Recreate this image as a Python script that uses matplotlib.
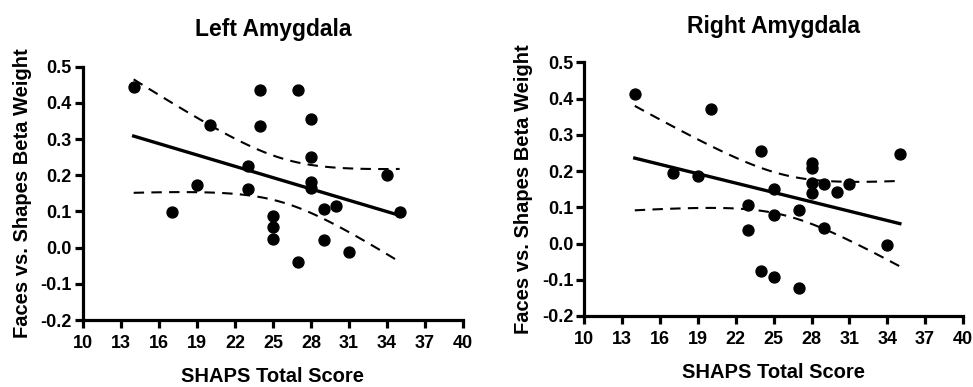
import matplotlib
matplotlib.use("Agg")
import matplotlib.pyplot as plt
import numpy as np

plt.rcParams['font.family'] = ['Liberation Sans', 'DejaVu Sans']
plt.rcParams['font.weight'] = 'bold'

# SHAPS scores and beta weights
left_x = [14, 17, 19, 20, 23, 23, 24, 24, 25, 25, 25, 27, 27,
          28, 28, 28, 28, 29, 29, 30, 31, 34, 35]
left_y = [0.445, 0.098, 0.172, 0.339, 0.227, 0.161, 0.437, 0.335, 0.088, 0.057, 0.025, 0.437, -0.039,
          0.355, 0.250, 0.182, 0.164, 0.107, 0.022, 0.116, -0.013, 0.200, 0.098]

right_x = [14, 17, 19, 20, 23, 23, 24, 24, 25, 25, 25, 27, 27,
           28, 28, 28, 28, 29, 29, 30, 31, 34, 35]
right_y = [0.412, 0.194, 0.186, 0.370, 0.106, 0.037, 0.256, -0.076, 0.151, 0.079, -0.092, 0.092, -0.123,
           0.223, 0.209, 0.168, 0.138, 0.164, 0.044, 0.141, 0.163, -0.004, 0.248]

titles = ['Left Amygdala', 'Right Amygdala']
xticks = [10, 13, 16, 19, 22, 25, 28, 31, 34, 37, 40]
yticks = [-0.2, -0.1, 0.0, 0.1, 0.2, 0.3, 0.4, 0.5]

# t value for 95% CI with n-2 = 21 df
T_CRIT = 2.080


def fit_band(x, y, xs):
    x = np.asarray(x, float)
    y = np.asarray(y, float)
    n = len(x)
    b, a = np.polyfit(x, y, 1)
    resid = y - (a + b * x)
    s = np.sqrt(np.sum(resid ** 2) / (n - 2))
    sxx = np.sum((x - x.mean()) ** 2)
    yhat = a + b * xs
    se = s * np.sqrt(1.0 / n + (xs - x.mean()) ** 2 / sxx)
    return yhat, yhat - T_CRIT * se, yhat + T_CRIT * se


fig = plt.figure(figsize=(9.73, 3.87), dpi=100)
ax1 = fig.add_axes([0.0853, 0.1731, 0.3905, 0.6545])
ax2 = fig.add_axes([0.6005, 0.1835, 0.3892, 0.6555])

panels = [(ax1, left_x, left_y, titles[0], 22),
          (ax2, right_x, right_y, titles[1], 21)]

for ax, xd, yd, title, tpad in panels:
    xs = np.linspace(min(xd), max(xd), 100)
    yhat, lo, hi = fit_band(xd, yd, xs)
    ax.plot(xs, yhat, color='black', lw=2.4, zorder=2)
    ax.plot(xs, lo, color='black', lw=1.5, ls=(0, (5, 3.5)), zorder=2)
    ax.plot(xs, hi, color='black', lw=1.5, ls=(0, (5, 3.5)), zorder=2)
    ax.scatter(xd, yd, s=62, color='black', zorder=3, clip_on=False)

    ax.set_xlim(10, 40)
    ax.set_ylim(-0.2, 0.5)
    ax.set_xticks(xticks)
    ax.set_yticks(yticks)
    ax.set_yticklabels(['%.1f' % v for v in yticks])
    ax.spines['top'].set_visible(False)
    ax.spines['right'].set_visible(False)
    for sp in ['left', 'bottom']:
        ax.spines[sp].set_linewidth(2.3)
    ax.tick_params(width=2.3, length=6, labelsize=13)
    ax.tick_params(axis='x', pad=4.5)
    ax.tick_params(axis='y', pad=2)
    for lab in ax.get_xticklabels() + ax.get_yticklabels():
        lab.set_fontweight('bold')
    ax.set_title(title, fontsize=16.5, fontweight='bold', pad=tpad)
    ax.set_xlabel('SHAPS Total Score', fontsize=14.5, fontweight='bold', labelpad=11)
    ax.set_ylabel('Faces vs. Shapes Beta Weight', fontsize=14.5, fontweight='bold', labelpad=6)

fig.savefig('out.png', dpi=100)
